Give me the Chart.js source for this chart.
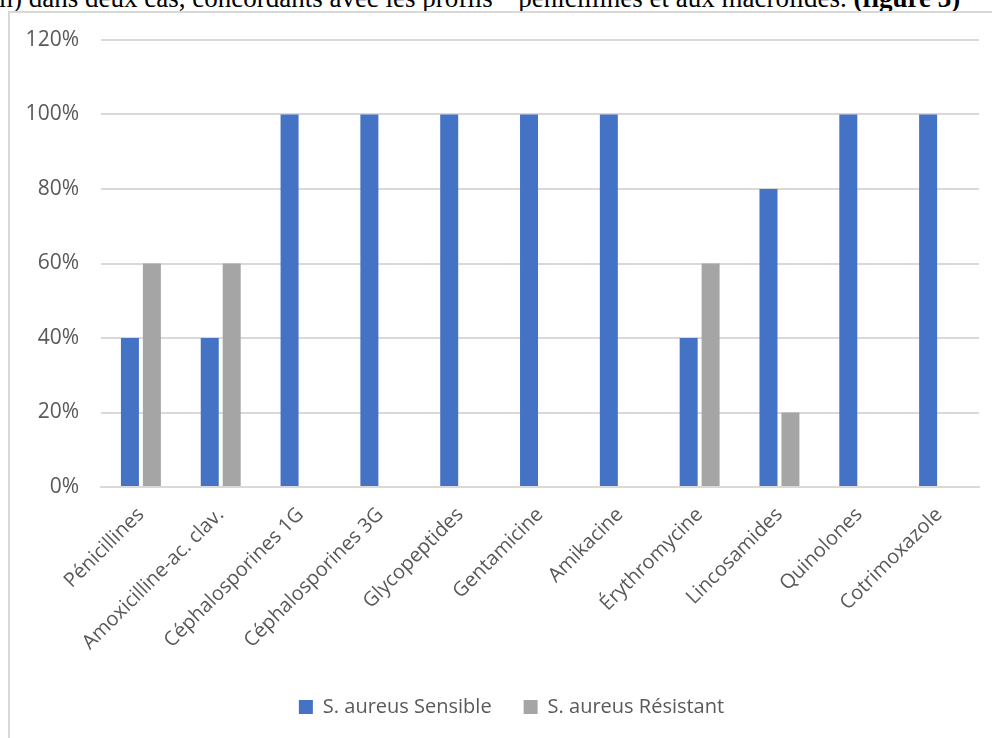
<!DOCTYPE html>
<html>
<head>
<meta charset="utf-8">
<script src="https://cdn.jsdelivr.net/npm/chart.js@4.4.1/dist/chart.umd.min.js"></script>
<style>
    html, body { margin: 0; padding: 0; overflow: hidden; background: #fff; width: 992px; height: 738px; }
    #caption {
        position: absolute; left: -8px; top: -15px; white-space: nowrap;
        font-family: "Liberation Serif", "Times New Roman", serif; font-size: 27px; line-height: 27px; color: #000;
    }
    #frame {
        position: absolute; left: 8px; top: 11px; width: 1010px; height: 740px;
        border-left: 2px solid #d9d9d9; border-top: 2px solid #d9d9d9;
    }
    #wrap { position: absolute; left: 0; top: 0; width: 1004px; height: 725px; }
</style>
</head>
<body>
<div id="caption">m) dans deux cas, concordants avec les profils “ pénicillines et aux macrolides. <b>(figure 3)</b></div>
<div id="frame">
    <div id="wrap"><canvas id="chart"></canvas></div>
</div>
<script>
const categories = ['Pénicillines', 'Amoxicilline-ac. clav.', 'Céphalosporines 1G', 'Céphalosporines 3G',
    'Glycopeptides', 'Gentamicine', 'Amikacine', 'Érythromycine', 'Lincosamides', 'Quinolones', 'Cotrimoxazole'];
const sensible = [40, 40, 100, 100, 100, 100, 100, 40, 80, 100, 100];
const resistant = [60, 60, 0, 0, 0, 0, 0, 60, 20, 0, 0];
const yTicks = [0, 20, 40, 60, 80, 100, 120];

const textColor = '#595959';
const gridColor = '#d9d9d9';
const fontFamily = '"Open Sans", "Noto Sans", sans-serif';

// legend in the original is centred on the whole frame, not the padded box
const legendShift = {
    id: 'legendShift',
    afterLayout(chart) {
        chart.legend.left += 17;
        chart.legend.right += 17;
    }
};

const ctx = document.getElementById('chart').getContext('2d');
new Chart(ctx, {
    type: 'bar',
    data: {
        labels: categories,
        datasets: [{
            label: 'S. aureus Sensible',
            data: sensible,
            backgroundColor: '#4472C4',
            barPercentage: 0.82,
            categoryPercentage: 0.55
        }, {
            label: 'S. aureus Résistant',
            data: resistant,
            backgroundColor: '#A5A5A5',
            barPercentage: 0.82,
            categoryPercentage: 0.55
        }]
    },
    plugins: [legendShift],
    options: {
        responsive: true,
        maintainAspectRatio: false,
        animation: false,
        layout: { padding: { top: 27, right: 35, left: 0, bottom: 11 } },
        scales: {
            x: {
                grid: { display: false, drawTicks: false },
                border: { color: gridColor, width: 2 },
                ticks: {
                    color: textColor,
                    font: { family: fontFamily, size: 20 },
                    maxRotation: 45,
                    minRotation: 45,
                    padding: 16,
                    autoSkip: false
                },
                afterFit: scale => { scale.height = 178; }
            },
            y: {
                min: 0,
                max: 120,
                afterBuildTicks: scale => { scale.ticks = yTicks.map(v => ({ value: v })); },
                grid: { color: gridColor, lineWidth: 2, drawTicks: false },
                border: { display: false },
                ticks: {
                    color: textColor,
                    font: { family: fontFamily, size: 21 },
                    padding: 22,
                    callback: v => v + '%'
                },
                afterFit: scale => {
                    scale.width = 91;
                    scale.paddingTop = 0;
                    scale.paddingBottom = 0;
                }
            }
        },
        plugins: {
            legend: {
                position: 'bottom',
                labels: {
                    color: textColor,
                    font: { family: fontFamily, size: 20 },
                    boxWidth: 14,
                    boxHeight: 14,
                    padding: 32
                }
            },
            tooltip: { enabled: false }
        }
    }
});
</script>
</body>
</html>
